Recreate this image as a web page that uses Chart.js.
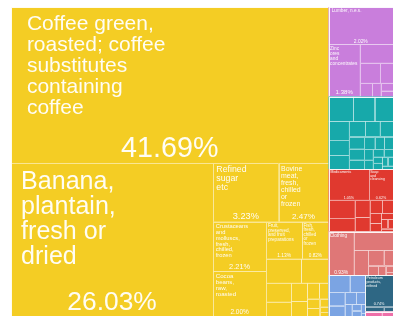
<!DOCTYPE html>
<html>
<head>
<meta charset="utf-8">
<script src="https://cdn.jsdelivr.net/npm/chart.js@4.4.1/dist/chart.umd.min.js"></script>
<style>
  html, body { margin: 0; padding: 0; background: #fff; }
  #wrap { width: 393px; height: 316px; }
</style>
</head>
<body>
<div id="wrap"><canvas id="chart"></canvas></div>
<script>
// Export shares (% of total), one pair of arrays per product group
const FOOD_NAMES = [
  "Coffee green, roasted; coffee substitutes containing coffee",
  "Banana, plantain, fresh or dried",
  "Refined sugar etc",
  "Bovine meat, fresh, chilled or frozen",
  "Crustaceans and molluscs, fresh, chilled, frozen",
  "Cocoa beans, raw, roasted",
  "Fruit, preserved, and fruit preparations",
  "Fish, fresh, chilled or frozen",
  "Vegetables, fresh or frozen",
  "Fruit juices",
  "Nuts, edible",
  "Cane sugar, raw",
  "Animal feed",
  "Meat, prepared",
  "Fruit, fresh",
  "Spices",
  "Maize, unmilled",
  "Margarine",
  "Cereal preparations",
  "Beans, dried",
  "Honey",
];
const FOOD_VALUES = [41.69, 26.03, 3.23, 2.47, 2.21, 2.0, 1.13, 0.82, 0.72, 0.55, 0.4, 0.3, 0.25, 0.2, 0.16, 0.12, 0.1, 0.08, 0.06, 0.04, 0.03];

const CRUDE_NAMES = ["Lumber, n.e.s.", "Zinc ores and concentrates", "Lead ores and concentrates", "Silver ores", "Natural rubber", "Cotton", "Crude vegetable materials", "Hides and skins", "Pulpwood"];
const CRUDE_VALUES = [2.02, 1.38, 0.52, 0.34, 0.22, 0.14, 0.1, 0.08, 0.06];

const MANUF_NAMES = [
  "Paper and paperboard", "Textile yarn", "Cotton fabrics", "Wood manufactures", "Cement", "Glass",
  "Iron and steel bars", "Aluminium", "Metal containers", "Nails and screws", "Veneer sheets", "Plywood",
  "Cardboard boxes", "Leather", "Rubber tyres", "Lime", "Clay bricks", "Copper wire", "Tools", "Cutlery",
  "Household equipment", "Wire products", "Cordage", "Carpets",
];
const MANUF_VALUES = [0.52, 0.45, 0.38, 0.32, 0.26, 0.24, 0.21, 0.19, 0.17, 0.15, 0.14, 0.12, 0.11, 0.1, 0.09, 0.08, 0.07, 0.07, 0.06, 0.05, 0.05, 0.04, 0.04, 0.03];

const CHEM_NAMES = ["Medicaments", "Soap and cleansing", "Insecticides", "Fertilizers", "Perfumery", "Paints", "Plastics", "Essential oils", "Explosives", "Inorganic chemicals", "Dyes", "Starches", "Glues", "Polishes"];
const CHEM_VALUES = [1.05, 0.62, 0.4, 0.3, 0.22, 0.18, 0.14, 0.12, 0.1, 0.08, 0.06, 0.05, 0.04, 0.03];

const MISC_NAMES = ["Clothing", "Footwear", "Furniture", "Printed matter", "Plastic articles", "Toys", "Jewellery", "Office supplies", "Musical instruments"];
const MISC_VALUES = [0.93, 0.62, 0.3, 0.2, 0.12, 0.08, 0.06, 0.04, 0.02];

const MACH_NAMES = ["Electrical machinery", "Pumps", "Trucks", "Agricultural machinery", "Telecom equipment", "Boats", "Engines", "Office machines", "Parts", "Switchgear", "Batteries"];
const MACH_VALUES = [0.3, 0.22, 0.18, 0.14, 0.12, 0.09, 0.07, 0.05, 0.04, 0.03, 0.01];

const FUEL_NAMES = ["Petroleum products, refined", "Lubricating oils", "Liquefied gas"];
const FUEL_VALUES = [0.74, 0.08, 0.04];

const BEV_NAMES = ["Tobacco, manufactured", "Beverages"];
const BEV_VALUES = [0.06, 0.04];

const GROUP_NAMES = ["Food", "Crude materials", "Manufactured goods", "Chemicals", "Misc. manufactured", "Machinery", "Mineral fuels", "Beverages and tobacco"];
const GROUP_COLORS = ["#f4cd24", "#c97edc", "#17a9aa", "#e0392f", "#df7777", "#7ba4e3", "#2e6784", "#ee6fa9"];
const GROUP_ITEMS = [
  [FOOD_NAMES, FOOD_VALUES], [CRUDE_NAMES, CRUDE_VALUES], [MANUF_NAMES, MANUF_VALUES], [CHEM_NAMES, CHEM_VALUES],
  [MISC_NAMES, MISC_VALUES], [MACH_NAMES, MACH_VALUES], [FUEL_NAMES, FUEL_VALUES], [BEV_NAMES, BEV_VALUES],
];

// layout space is a bit taller than the plot box (the picture is squashed vertically)
const STRETCH = 1.1;
const SPACE_W = 100;
const SPACE_H = 100 * (309 / 382) * STRETCH;
const FONT = '"Liberation Sans", Arial, sans-serif';

// squarified treemap (ratio 1), rows are sliced like d3.treemapSquarify
function squarify(nodes, x0, y0, x1, y1, out) {
  let value = nodes.reduce((s, n) => s + n.value, 0);
  let i0 = 0, i1 = 0;
  const n = nodes.length;
  while (i0 < n) {
    const dx = x1 - x0, dy = y1 - y0;
    let sum = nodes[i1++].value;
    let minV = sum, maxV = sum;
    const alpha = Math.max(dy / dx, dx / dy) / value;
    let beta = sum * sum * alpha;
    let minRatio = Math.max(maxV / beta, beta / minV);
    for (; i1 < n; ++i1) {
      const v = nodes[i1].value;
      sum += v;
      if (v < minV) minV = v;
      if (v > maxV) maxV = v;
      beta = sum * sum * alpha;
      const r = Math.max(maxV / beta, beta / minV);
      if (r > minRatio) { sum -= v; break; }
      minRatio = r;
    }
    const row = nodes.slice(i0, i1);
    if (dx < dy) {
      const h = i1 < n ? dy * sum / value : dy;
      let x = x0;
      row.forEach((nd) => {
        const w = dx * nd.value / sum;
        out.push({ node: nd, x0: x, y0: y0, x1: x + w, y1: y0 + h });
        x += w;
      });
      y0 += h;
    } else {
      const w = i1 < n ? dx * sum / value : dx;
      let y = y0;
      row.forEach((nd) => {
        const h = dy * nd.value / sum;
        out.push({ node: nd, x0: x0, y0: y, x1: x0 + w, y1: y + h });
        y += h;
      });
      x0 += w;
    }
    value -= sum;
    i0 = i1;
  }
  return out;
}

function wrapText(ctx, text, wrapW, maxW) {
  const words = text.split(" ");
  const lines = [];
  let line = "";
  for (const word of words) {
    if (ctx.measureText(word).width > maxW) return null;
    const test = line ? line + " " + word : word;
    if (!line || ctx.measureText(test).width <= wrapW) line = test;
    else { lines.push(line); line = word; }
  }
  if (line) lines.push(line);
  return lines;
}

function drawLabel(ctx, r, name, value) {
  const w = r.x1 - r.x0, h = r.y1 - r.y0;
  const pf = Math.min(Math.sqrt(w * h) * 0.15, h * 0.2 - 2.5, w * 0.2);
  if (pf < 3) return;
  const padX = w * 0.05, padY = h * 0.045, padB = h * 0.04;
  ctx.fillStyle = "rgba(255,255,255,0.95)";
  ctx.font = `${pf}px ${FONT}`;
  ctx.textAlign = "center";
  ctx.textBaseline = "alphabetic";
  ctx.fillText(value.toFixed(2) + "%", (r.x0 + r.x1) / 2, r.y1 - padB);

  const avail = h - padY - pf * 1.3 - padB;
  for (let f = Math.min(pf * 0.95, 30); f >= 2.5; f -= 0.25) {
    ctx.font = `${f}px ${FONT}`;
    const lines = wrapText(ctx, name, w * 0.49, w - 2 * padX);
    if (!lines || lines.length * f > avail) continue;
    ctx.textAlign = "left";
    ctx.textBaseline = "top";
    lines.forEach((ln, i) => ctx.fillText(ln, r.x0 + padX, r.y0 + padY + i * f));
    break;
  }
}

const treemapPlugin = {
  id: "treemap",
  afterDatasetsDraw(chart) {
    const { ctx, scales } = chart;
    const sx = scales.x, sy = scales.y;
    const groups = GROUP_NAMES.map((g, gi) => {
      const [names, values] = GROUP_ITEMS[gi];
      const items = names.map((nm, i) => ({ name: nm, value: values[i] })).sort((a, b) => b.value - a.value);
      return { name: g, color: GROUP_COLORS[gi], items, value: values.reduce((a, b) => a + b, 0) };
    }).sort((a, b) => b.value - a.value);

    const toPx = (c) => ({
      x0: sx.getPixelForValue(c.x0), x1: sx.getPixelForValue(c.x1),
      y0: sy.getPixelForValue(c.y0), y1: sy.getPixelForValue(c.y1),
    });

    ctx.save();
    const groupCells = squarify(groups, 0, 0, SPACE_W, SPACE_H, []);
    groupCells.forEach((gc) => {
      const g = gc.node;
      const cells = squarify(g.items, gc.x0, gc.y0, gc.x1, gc.y1, []);
      cells.forEach((c) => {
        const p = toPx(c);
        ctx.fillStyle = g.color;
        ctx.fillRect(p.x0, p.y0, p.x1 - p.x0, p.y1 - p.y0);
        ctx.strokeStyle = "rgba(255,255,255,0.5)";
        ctx.lineWidth = 1;
        ctx.strokeRect(Math.round(p.x0) + 0.5, Math.round(p.y0) + 0.5, Math.round(p.x1 - p.x0), Math.round(p.y1 - p.y0));
      });
      cells.forEach((c) => drawLabel(ctx, toPx(c), c.node.name, c.node.value));
      const gp = toPx(gc);
      ctx.strokeStyle = "rgba(255,255,255,0.85)";
      ctx.strokeRect(Math.round(gp.x0) + 0.5, Math.round(gp.y0) + 0.5, Math.round(gp.x1 - gp.x0), Math.round(gp.y1 - gp.y0));
    });
    ctx.restore();
  },
};

function renderChart() {
  const el = document.getElementById("chart");
  new Chart(el, {
    type: "scatter",
    data: { datasets: [{ data: [] }] },
    options: {
      responsive: true,
      maintainAspectRatio: false,
      animation: false,
      layout: { padding: { left: 11, top: 7, right: 0, bottom: 0 } },
      plugins: { legend: { display: false }, tooltip: { enabled: false } },
      scales: {
        x: { type: "linear", min: 0, max: SPACE_W, display: false },
        y: { type: "linear", min: 0, max: SPACE_H, reverse: true, display: false },
      },
    },
    plugins: [treemapPlugin],
  });
}

document.addEventListener("DOMContentLoaded", renderChart);
</script>
</body>
</html>
